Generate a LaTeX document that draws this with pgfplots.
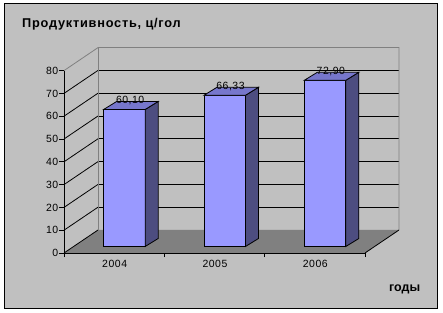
\documentclass[border=0pt]{standalone}
\usepackage{fontspec}
\setmainfont{Liberation Sans}
\newfontfamily\spaced[LetterSpace=5]{Liberation Sans}
\newfontfamily\titlefont[LetterSpace=6]{Liberation Sans}
\usepackage{pgfplots}
\usepackage{pgfplotstable}
\pgfplotsset{compat=1.18}
\definecolor{bg}{HTML}{C0C0C0}
\definecolor{floorc}{HTML}{808080}
\definecolor{wallline}{HTML}{808080}
\definecolor{barfront}{HTML}{9999FF}
\definecolor{barside}{HTML}{4D4D80}
\definecolor{bartop}{HTML}{7777CC}

\pgfplotstableread{
x v
0 60.10
1 66.33
2 72.90
}\bars

% cuboid drawn around the data point (category centre, value on the front plane)
\pgfdeclareplotmark{cuboid}{%
  \pgfmathsetmacro\yb{6.5-\val*2.28}%
  \pgfsetlinewidth{0.8bp}%
  \pgfsetstrokecolor{black}%
  \pgfsetfillcolor{barfront}%
  \pgfpathrectanglecorners{\pgfpoint{-10.5bp}{\yb bp}}{\pgfpoint{31bp}{6.5bp}}%
  \pgfusepath{fill,stroke}%
  \pgfsetfillcolor{barside}%
  \pgfpathmoveto{\pgfpoint{31bp}{\yb bp}}%
  \pgfpathlineto{\pgfpoint{44bp}{\yb bp+8bp}}%
  \pgfpathlineto{\pgfpoint{44bp}{14.5bp}}%
  \pgfpathlineto{\pgfpoint{31bp}{6.5bp}}%
  \pgfpathclose
  \pgfusepath{fill,stroke}%
  \pgfsetfillcolor{bartop}%
  \pgfpathmoveto{\pgfpoint{-10.5bp}{6.5bp}}%
  \pgfpathlineto{\pgfpoint{31bp}{6.5bp}}%
  \pgfpathlineto{\pgfpoint{44bp}{14.5bp}}%
  \pgfpathlineto{\pgfpoint{2.5bp}{14.5bp}}%
  \pgfpathclose
  \pgfusepath{fill,stroke}%
}

\begin{document}
\begin{tikzpicture}
\fill[white] (-64bp,-60bp) rectangle (379bp,253bp);
\draw[fill=bg, line width=1bp] (-59bp,-55bp) rectangle (373bp,249bp);
\node[anchor=base west, inner sep=0pt, font=\titlefont\bfseries\fontsize{12.8}{15}\selectfont] at (-42bp,225.7bp) {Продуктивность, ц/гол};
\node[anchor=base west, inner sep=0pt, font=\bfseries\fontsize{12.5}{15}\selectfont] at (325bp,-38bp) {годы};
\begin{axis}[
  at={(0,0)}, anchor=south west,
  x=100.33bp, y=2.28bp,
  xmin=-0.5, xmax=2.5, ymin=0, ymax=80,
  axis x line=bottom, axis y line=left,
  axis line style={-, black, line width=0.8bp},
  axis on top,
  clip=false,
  ytick={0,10,...,80},
  xtick={0,1,2}, xticklabels={2004,2005,2006},
  minor xtick={-0.5,0.5,1.5,2.5},
  tick align=outside,
  major tick length=5bp, minor tick length=4bp,
  major x tick style={draw=none},
  tick style={black, line width=0.8bp},
  /pgf/number format/assume math mode=true,
  tick label style={font=\spaced\fontsize{10.5}{12}\selectfont},
  yticklabel style={inner xsep=0.5bp},
  xticklabel style={inner ysep=2bp, xshift=0.5bp},
]
% floor
\fill[floorc] (axis cs:-0.5,0) -- (axis cs:2.5,0) -- (axis cs:2.839,10.09) -- (axis cs:-0.161,10.09) -- cycle;
% side wall diagonals and back wall grid lines
\pgfplotsinvokeforeach{0,10,20,30,40,50,60,70}{
  \draw[black, line width=0.8bp] (axis cs:-0.5,#1) -- (axis cs:-0.161,#1+10.09);
}
\pgfplotsinvokeforeach{10,20,30,40,50,60,70}{
  \draw[black, line width=0.8bp] (axis cs:-0.161,#1+10.09) -- (axis cs:2.839,#1+10.09);
}
\draw[wallline, line width=0.8bp] (axis cs:-0.5,80) -- (axis cs:-0.161,90.09) -- (axis cs:2.839,90.09) -- (axis cs:2.839,10.09);
\draw[wallline, line width=0.8bp] (axis cs:-0.161,10.09) -- (axis cs:-0.161,90.09);
\draw[black, line width=0.8bp] (axis cs:2.5,0) -- (axis cs:2.839,10.09);
% bars
\addplot[only marks, mark=cuboid,
  visualization depends on={\thisrow{v} \as \val},
  nodes near coords={\pgfmathprintnumber[fixed,fixed zerofill,precision=2,use comma]{\pgfplotspointmeta}},
  every node near coord/.append style={anchor=center, xshift=16bp, yshift=15.5bp, black, inner sep=0pt, font=\spaced\fontsize{10.5}{12}\selectfont},
] table[x=x, y=v] {\bars};
\end{axis}
\end{tikzpicture}
\end{document}
